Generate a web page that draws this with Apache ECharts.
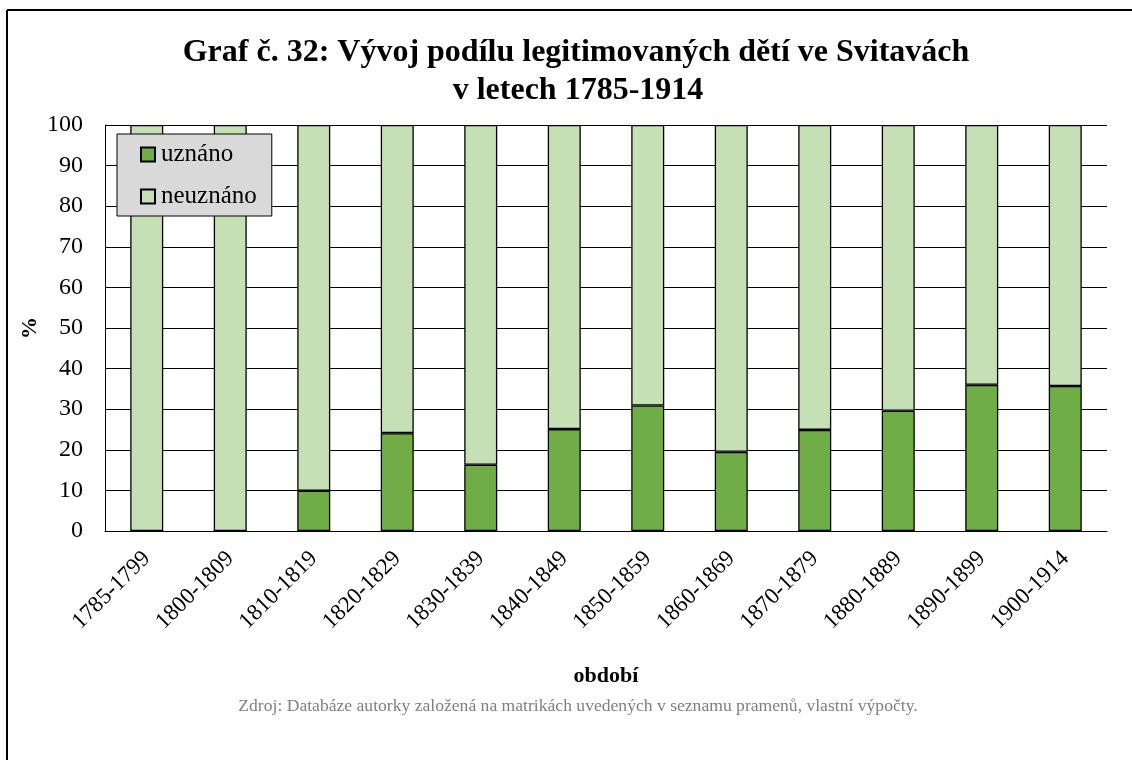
<!DOCTYPE html>
<html>
<head>
<meta charset="utf-8">
<script src="https://cdn.jsdelivr.net/npm/echarts@6/dist/echarts.min.js"></script>
<style>
  html, body { margin: 0; padding: 0; background: #fff; }
  #chart { width: 1132px; height: 760px; }
</style>
</head>
<body>
<div id="chart"></div>
<script>
// periods (x categories)
const periods = [
  '1785-1799', '1800-1809', '1810-1819', '1820-1829', '1830-1839', '1840-1849',
  '1850-1859', '1860-1869', '1870-1879', '1880-1889', '1890-1899', '1900-1914'
];
// share of legitimised children, %
const uznano = [0, 0, 9.9, 24.1, 16.3, 25.1, 30.9, 19.5, 24.9, 29.6, 36.0, 35.7];
const neuznano = [100, 100, 90.1, 75.9, 83.7, 74.9, 69.1, 80.5, 75.1, 70.4, 64.0, 64.3];
const yTicks = { min: 0, max: 100, step: 10 };

const titleLines = ['Graf č. 32: Vývoj podílu legitimovaných dětí ve Svitavách', 'v letech 1785-1914'];
const sourceNote = 'Zdroj: Databáze autorky založená na matrikách uvedených v seznamu pramenů, vlastní výpočty.';

const serif = '"Liberation Serif", "DejaVu Serif", serif';

const chart = echarts.init(document.getElementById('chart'));

chart.setOption({
  backgroundColor: '#fff',
  animation: false,
  legend: {
    orient: 'vertical',
    left: 117,
    top: 134,
    padding: [8, 15, 7, 23],
    itemWidth: 14,
    itemHeight: 14,
    itemGap: 17,
    icon: 'rect',
    backgroundColor: '#d9d9d9',
    borderColor: '#000',
    borderWidth: 1,
    textStyle: { fontFamily: serif, fontSize: 25, color: '#000', padding: [0, 0, 0, 1] },
    data: ['uznáno', 'neuznáno']
  },
  grid: { left: 105, right: 25, top: 125, bottom: 229 },
  xAxis: {
    type: 'category',
    data: periods,
    axisLine: { lineStyle: { color: '#000', width: 1 } },
    axisTick: { show: false },
    axisLabel: {
      rotate: 45,
      margin: 24,
      interval: 0,
      fontFamily: serif,
      fontSize: 23,
      color: '#000'
    },
    name: 'období',
    nameLocation: 'middle',
    nameGap: 134,
    nameTextStyle: { fontFamily: serif, fontWeight: 'bold', fontSize: 22, color: '#000' }
  },
  yAxis: {
    type: 'value',
    min: yTicks.min,
    max: yTicks.max,
    interval: yTicks.step,
    axisLine: { show: true, lineStyle: { color: '#000', width: 1 } },
    axisTick: { show: false },
    splitLine: { lineStyle: { color: '#000', width: 1 } },
    axisLabel: { margin: 22, fontFamily: serif, fontSize: 24, color: '#000' }
  },
  series: [
    {
      name: 'uznáno',
      type: 'bar',
      stack: 'total',
      barWidth: 33,
      data: uznano,
      itemStyle: { color: '#70ad47', borderColor: '#000', borderWidth: 1.3 }
    },
    {
      name: 'neuznáno',
      type: 'bar',
      stack: 'total',
      barWidth: 33,
      data: neuznano,
      itemStyle: { color: '#c5e0b4', borderColor: '#000', borderWidth: 1.3 }
    }
  ],
  graphic: [
    {
      type: 'text', x: 576, y: 53,
      style: { text: titleLines[0], font: 'bold 32px ' + serif, fill: '#000', align: 'center', verticalAlign: 'middle' }
    },
    {
      type: 'text', x: 578, y: 91,
      style: { text: titleLines[1], font: 'bold 32px ' + serif, fill: '#000', align: 'center', verticalAlign: 'middle' }
    },
    // y axis name
    {
      type: 'text', x: 30, y: 328, rotation: Math.PI / 2,
      style: { text: '%', font: 'bold 22px ' + serif, fill: '#000', align: 'center', verticalAlign: 'middle' }
    },
    {
      type: 'text', x: 578, y: 706,
      style: { text: sourceNote, font: '17.6px ' + serif, fill: '#7f7f7f', align: 'center', verticalAlign: 'middle' }
    },
    // outer frame (only top and left edges are visible in the crop)
    { type: 'line', shape: { x1: 7, y1: 10, x2: 1132, y2: 10 }, style: { stroke: '#000', lineWidth: 2 } },
    { type: 'line', shape: { x1: 7, y1: 10, x2: 7, y2: 760 }, style: { stroke: '#000', lineWidth: 2 } }
  ]
});
</script>
</body>
</html>
